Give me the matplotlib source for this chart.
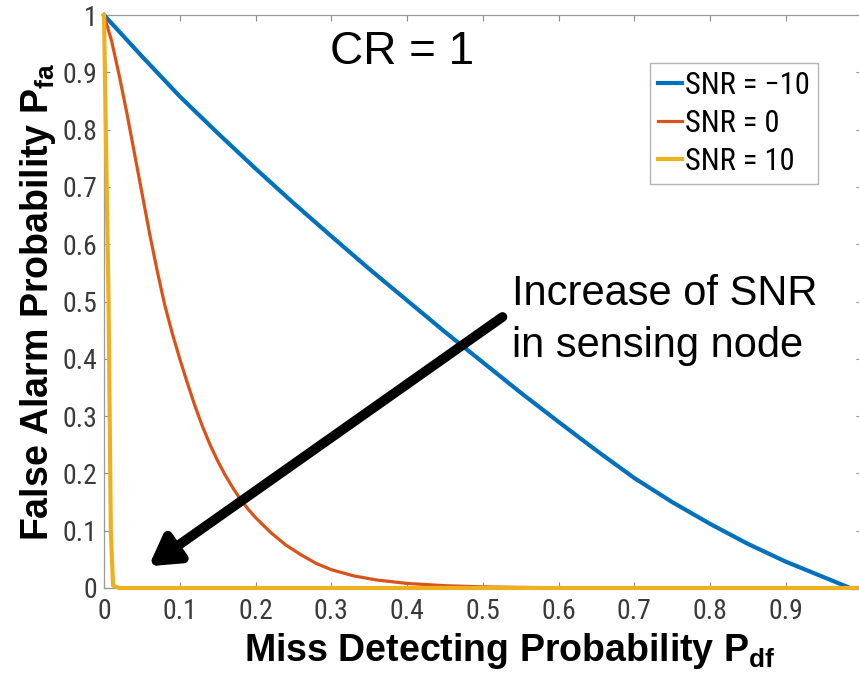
import matplotlib
matplotlib.use("Agg")
import matplotlib.pyplot as plt
from matplotlib import font_manager
from matplotlib.font_manager import FontProperties

# Miss-detection probability vs false-alarm probability, CR = 1
snr_labels = ["SNR = \u221210", "SNR = 0", "SNR = 10"]
colors = ["#0072BD", "#D95319", "#EDB120"]

pmd_m10 = [0.0, 0.05, 0.1, 0.15, 0.2, 0.25, 0.3, 0.35, 0.4, 0.45, 0.5, 0.55,
           0.6, 0.65, 0.7, 0.75, 0.8, 0.85, 0.9, 0.95, 0.985, 1.0]
pfa_m10 = [1.0, 0.928, 0.858, 0.794, 0.732, 0.672, 0.614, 0.557, 0.502, 0.447,
           0.394, 0.341, 0.29, 0.24, 0.192, 0.15, 0.112, 0.077, 0.046, 0.019, 0.0, 0.0]

pmd_0 = [0.0, 0.01, 0.02, 0.03, 0.04, 0.05, 0.06, 0.07, 0.08, 0.09, 0.1, 0.11,
         0.12, 0.13, 0.14, 0.15, 0.16, 0.17, 0.18, 0.19, 0.2, 0.22, 0.24, 0.26,
         0.28, 0.3, 0.33, 0.36, 0.4, 0.45, 0.5, 0.55, 0.6, 0.7, 0.8, 1.0]
pfa_0 = [1.0, 0.955, 0.895, 0.83, 0.76, 0.69, 0.62, 0.555, 0.495, 0.445, 0.4, 0.358,
         0.318, 0.282, 0.25, 0.222, 0.197, 0.175, 0.155, 0.138, 0.123, 0.097, 0.075,
         0.058, 0.043, 0.032, 0.021, 0.014, 0.008, 0.004, 0.002, 0.001, 0.0005, 0.0,
         0.0, 0.0]

pmd_10 = [0.0, 0.006, 0.009, 0.012, 0.02, 1.0]
pfa_10 = [1.0, 0.5, 0.1, 0.004, 0.0, 0.0]

xticks = [0, 0.1, 0.2, 0.3, 0.4, 0.5, 0.6, 0.7, 0.8, 0.9]
xticklabels = ["0", "0.1", "0.2", "0.3", "0.4", "0.5", "0.6", "0.7", "0.8", "0.9"]
yticks = [0, 0.1, 0.2, 0.3, 0.4, 0.5, 0.6, 0.7, 0.8, 0.9, 1.0]
yticklabels = ["0", "0.1", "0.2", "0.3", "0.4", "0.5", "0.6", "0.7", "0.8", "0.9", "1"]


def narrow_font(size):
    """Pick a narrow sans face if one is installed."""
    entries = font_manager.fontManager.ttflist
    names = {f.name for f in entries}
    for nm in ["Liberation Sans Narrow", "Arial Narrow", "Roboto Condensed",
               "Open Sans Condensed", "Noto Sans Condensed"]:
        if nm in names:
            return FontProperties(family=nm, size=size)
    for f in entries:
        if f.name in ("Liberation Sans", "Noto Sans", "Roboto", "Open Sans",
                      "DejaVu Sans") and str(f.stretch) in (
                "condensed", "semi-condensed", "extra-condensed", "500", "300", "400"):
            if f.style == "normal" and f.weight in (400, "normal", "regular"):
                return FontProperties(fname=f.fname, size=size)
    return FontProperties(family="Liberation Sans", size=size)


plt.rcParams["mathtext.fontset"] = "custom"
plt.rcParams["mathtext.bf"] = "Liberation Sans:bold"
plt.rcParams["mathtext.rm"] = "Liberation Sans"

fig = plt.figure(figsize=(8.59, 6.78), dpi=100)
ax = fig.add_axes([104 / 859, 90 / 678, (861.5 - 104) / 859, (588 - 15) / 678])

series = [(pmd_m10, pfa_m10, 3.0), (pmd_0, pfa_0, 2.3), (pmd_10, pfa_10, 3.0)]
for (xs, ys, lw), lab, c in zip(series, snr_labels, colors):
    ax.plot(xs, ys, color=c, lw=lw, label=lab, clip_on=False, zorder=3,
            solid_joinstyle="round")

ax.set_xlim(0, 1)
ax.set_ylim(0, 1)
ax.set_xticks(xticks)
ax.set_xticklabels(xticklabels)
ax.set_yticks(yticks)
ax.set_yticklabels(yticklabels)

for s in ax.spines.values():
    s.set_color("#9a9a9a")
    s.set_linewidth(0.9)
ax.tick_params(direction="in", length=4, width=0.8, color="#8a8a8a",
               top=True, right=True, labelcolor="#3a3a3a")
ax.tick_params(axis="x", pad=7)
ax.tick_params(axis="y", pad=5)
tick_fp = narrow_font(20)
for t in ax.get_xticklabels() + ax.get_yticklabels():
    t.set_fontproperties(tick_fp)

ax.set_xlabel("Miss Detecting Probability P$_{\\mathbf{df}}$", fontsize=27,
              fontweight="bold", family="Liberation Sans")
ax.xaxis.set_label_coords((510 - 104) / 757.5, -0.075)
ax.set_ylabel("False Alarm Probability P$_{\\mathbf{fa}}$", fontsize=27,
              fontweight="bold", family="Liberation Sans", labelpad=3)

ax.text(0.393, 0.935, "CR = 1", fontsize=33, family="Liberation Sans",
        ha="center", va="center", transform=ax.transAxes)

ax.text(0.538, 0.494, "Increase of SNR", fontsize=30, family="Liberation Sans",
        ha="left", va="baseline")
ax.text(0.538, 0.403, "in sensing node", fontsize=30, family="Liberation Sans",
        ha="left", va="baseline")

ax.annotate("", xy=(0.059, 0.038), xytext=(0.526, 0.473),
            arrowprops=dict(arrowstyle="-|>,head_length=1.7,head_width=1.0",
                            lw=7, color="black", shrinkA=0, shrinkB=0),
            zorder=5)

leg = ax.legend(loc="upper right", bbox_to_anchor=(818 / 859, 1 - 63 / 678),
                bbox_transform=fig.transFigure,
                prop=narrow_font(22), frameon=True, fancybox=False,
                edgecolor="#a0a0a0", handlelength=0.8, handletextpad=0.1,
                labelspacing=0.3, borderpad=0.25, borderaxespad=0)
leg.get_frame().set_linewidth(1.0)

fig.savefig("out.png", dpi=100)
